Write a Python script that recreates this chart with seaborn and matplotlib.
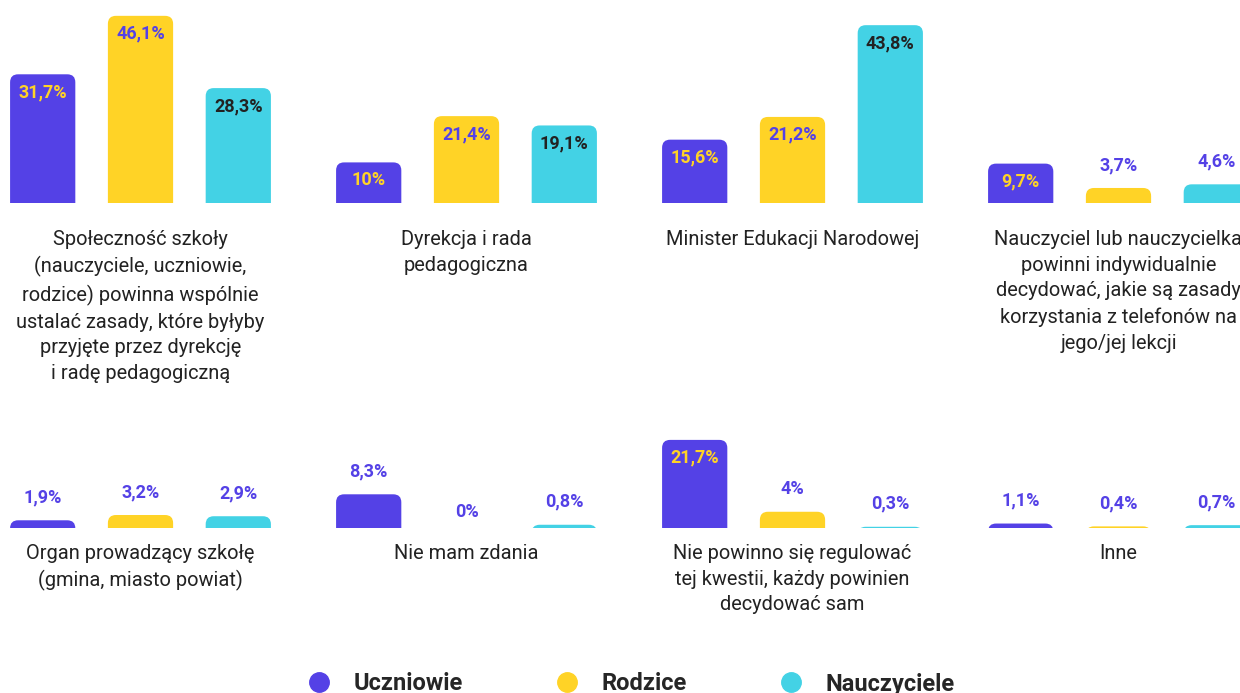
import matplotlib
matplotlib.use("Agg")
import matplotlib.pyplot as plt
from matplotlib.patches import FancyBboxPatch
from matplotlib.lines import Line2D
import seaborn as sns
import pandas as pd

# Answers: who should set the rules for phone use at school (%)
kategorie = [
    "Społeczność szkoły\n(nauczyciele, uczniowie,\nrodzice) powinna wspólnie\nustalać zasady, które byłyby\nprzyjęte przez dyrekcję\ni radę pedagogiczną",
    "Dyrekcja i rada\npedagogiczna",
    "Minister Edukacji Narodowej",
    "Nauczyciel lub nauczycielka\npowinni indywidualnie\ndecydować, jakie są zasady\nkorzystania z telefonów na\njego/jej lekcji",
    "Organ prowadzący szkołę\n(gmina, miasto powiat)",
    "Nie mam zdania",
    "Nie powinno się regulować\ntej kwestii, każdy powinien\ndecydować sam",
    "Inne",
]
grupy = ["Uczniowie", "Rodzice", "Nauczyciele"]
uczniowie = [31.7, 10, 15.6, 9.7, 1.9, 8.3, 21.7, 1.1]
rodzice = [46.1, 21.4, 21.2, 3.7, 3.2, 0, 4, 0.4]
nauczyciele = [28.3, 19.1, 43.8, 4.6, 2.9, 0.8, 0.3, 0.7]

PURPLE = "#5441E6"
YELLOW = "#FFD326"
CYAN = "#43D2E5"
DARK = "#222222"
kolory = [PURPLE, YELLOW, CYAN]
kolor_napisu_w_slupku = {PURPLE: YELLOW, YELLOW: PURPLE, CYAN: DARK}

rows = []
for g, vals in zip(grupy, [uczniowie, rodzice, nauczyciele]):
    for i, (k, v) in enumerate(zip(kategorie, vals)):
        rows.append({"wiersz": i // 4, "kategoria": k, "grupa": g, "wartosc": v})
df = pd.DataFrame(rows)

sns.set_theme(style="white")
plt.rcParams["font.family"] = ["Roboto", "DejaVu Sans"]

W, H = 1240, 693
fig = plt.figure(figsize=(W / 100, H / 100), dpi=100)

PX_PER_CAT = 326.0
X0 = 140.5  # pixel position of the first category centre
AX_H = 203.0
YMAX = 50.0
px_y = AX_H / YMAX
R_PX = 8.0

def fmt(v):
    return f"{v:g}".replace(".", ",") + "%"

for r, (base_px, lab_off) in enumerate([(203, -27), (528, -16)]):
    ax = fig.add_axes([0, 1 - base_px / H, 1, AX_H / H])
    sub = df[df["wiersz"] == r]
    order = kategorie[r * 4:(r + 1) * 4]
    sns.barplot(data=sub, x="kategoria", y="wartosc", hue="grupa",
                order=order, hue_order=grupy, palette=kolory,
                width=0.9, gap=0.333, saturation=1, legend=False,
                errorbar=None, ax=ax)
    ax.set_xlim(-X0 / PX_PER_CAT, (W - X0) / PX_PER_CAT)
    ax.set_ylim(0, YMAX)
    ax.set_axis_off()

    # bars with rounded top corners; the lower rounding is hidden below the baseline
    rx = R_PX / PX_PER_CAT
    ry = R_PX / px_y
    for cont, kol in zip(ax.containers, kolory):
        for bar, v in zip(cont.patches, cont.datavalues):
            x, w = bar.get_x(), bar.get_width()
            bar.set_visible(False)
            ax.add_patch(FancyBboxPatch(
                (x, -2 * ry), w, v + 2 * ry,
                boxstyle=f"round,pad=0,rounding_size={rx}",
                mutation_aspect=ry / rx, fc=kol, ec="none", lw=0))
            cx = x + w / 2
            if v >= 9.5:
                ax.annotate(fmt(v), (cx, v), xytext=(0, -18 * 0.72),
                            textcoords="offset points", ha="center", va="center",
                            fontsize=13, fontweight="bold",
                            color=kolor_napisu_w_slupku[kol], annotation_clip=False)
            else:
                off = 23 if v > 0 else 16
                ax.annotate(fmt(v), (cx, v), xytext=(0, off * 0.72),
                            textcoords="offset points", ha="center", va="center",
                            fontsize=13, fontweight="bold",
                            color=PURPLE, annotation_clip=False)

    for j, k in enumerate(order):
        ax.annotate(k, (j, 0), xytext=(0, lab_off * 0.72), textcoords="offset points",
                    ha="center", va="top", fontsize=14.4, color=DARK,
                    linespacing=1.45, annotation_clip=False)

uchwyty = [Line2D([], [], marker="o", ls="", color=c, markersize=14, label=g)
           for g, c in zip(grupy, kolory)]
fig.legend(handles=uchwyty, loc="center left", bbox_to_anchor=(307 / W, 1 - 684 / H),
           ncol=3, frameon=False, handlelength=1.0, handletextpad=0.98,
           columnspacing=3.9, borderpad=0, borderaxespad=0,
           prop={"weight": "bold", "size": 17})

fig.savefig("out.png", dpi=100, facecolor="white")
